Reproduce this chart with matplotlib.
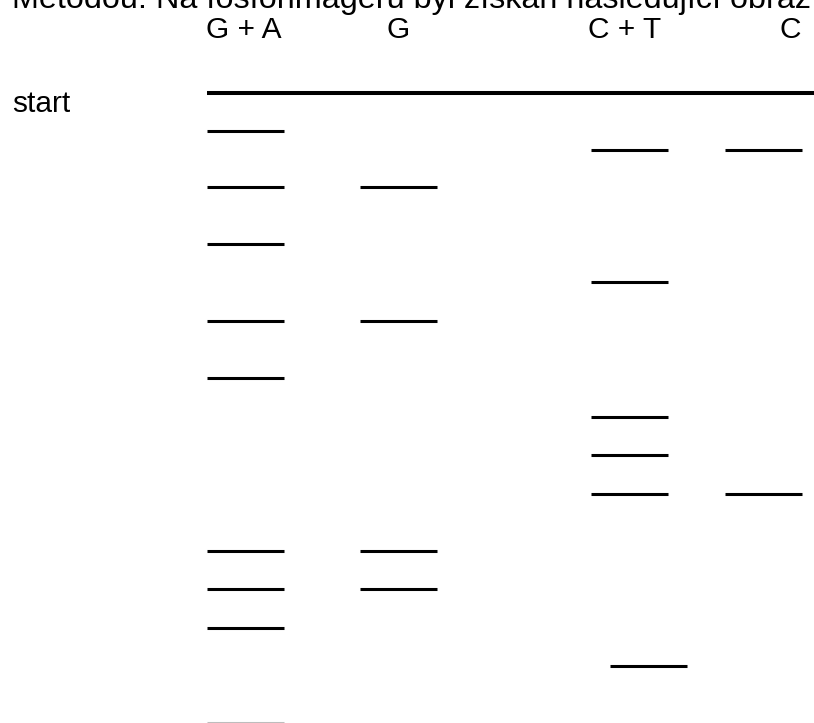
import matplotlib
matplotlib.use("Agg")
import matplotlib.pyplot as plt

# popisky drah a poloha pruhu (v pixelech od horniho okraje obrazku)
lanes = ["G + A", "G", "C + T", "C"]
lane_left = [207, 360, 591, 725]
lane_right = [284, 437, 668, 802]
label_x = [244, 398, 625, 801]
label_ha = ["center", "center", "center", "right"]

bands_ga = [131, 187.3, 244, 320.7, 378.3, 551, 589.3, 627.7]
bands_g = [187.3, 320.7, 551, 589.3]
bands_ct = [150, 282.3, 416.7, 455, 493.7]
bands_c = [150, 493.7]
# posunuty pruh v draze C + T a sedy pruh oriznuty dole
bands_ct_shifted = [666.3]
bands_ga_faint = [722.5]

start_y = 93.3
title = "Metodou. Na fosforimageru byl získán následující obraz."

plt.rcParams["font.family"] = ["Liberation Sans", "DejaVu Sans"]

fig = plt.figure(figsize=(8.14, 7.23), dpi=100)
ax = fig.add_axes([0, 0, 1, 1])
ax.set_xlim(0, 814)
ax.set_ylim(723, 0)
ax.axis("off")

lw = 2.2
all_bands = [bands_ga, bands_g, bands_ct, bands_c]
for i, ys in enumerate(all_bands):
    ax.hlines(ys, lane_left[i], lane_right[i], colors="black", linewidth=lw)
    ax.text(label_x[i], 37.5, lanes[i], ha=label_ha[i], va="baseline", fontsize=21.5)

ax.hlines(bands_ct_shifted, lane_left[2] + 19, lane_right[2] + 19, colors="black", linewidth=lw)
ax.hlines(bands_ga_faint, lane_left[0], lane_right[0], colors="#bdbdbd", linewidth=lw)

# startovni linie
ax.hlines(start_y, lane_left[0], 814, colors="black", linewidth=2.9)
ax.text(12, 112.3, "start", ha="left", va="baseline", fontsize=21.5)

# nadpis je v predloze nahore oriznuty
ax.text(12, 8.3, title, ha="left", va="baseline", fontsize=23.3, clip_on=False)

fig.savefig("out.png", dpi=100)
